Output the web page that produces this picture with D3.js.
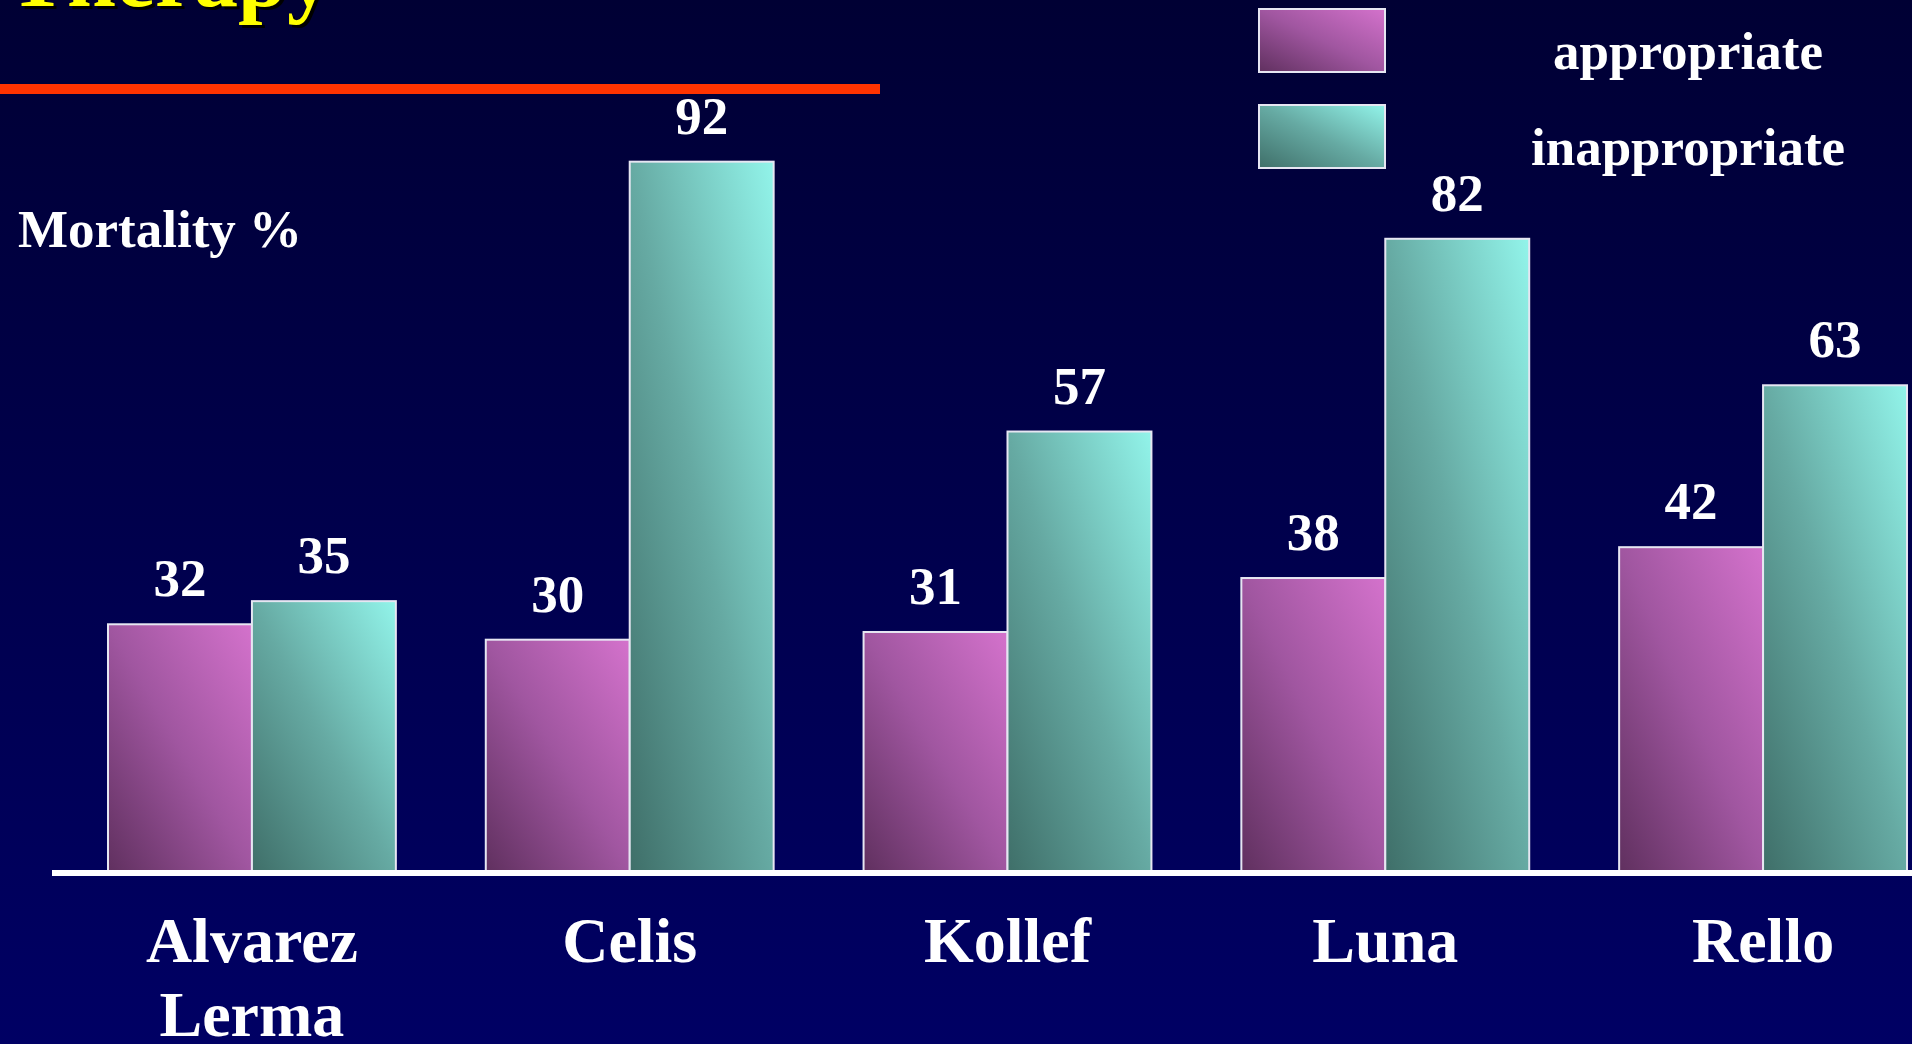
<!DOCTYPE html>
<html>
<head>
<meta charset="utf-8">
<script src="https://cdn.jsdelivr.net/npm/d3@7"></script>
<style>
  html, body { margin: 0; padding: 0; background: #000040; overflow: hidden; }
  svg { display: block; }
</style>
</head>
<body>
<svg id="chart" width="1912" height="1044"></svg>
<script>
// Mortality (%) by study, appropriate vs inappropriate therapy
const studies = ["Alvarez Lerma", "Celis", "Kollef", "Luna", "Rello"];
const appropriate = [32, 30, 31, 38, 42];
const inappropriate = [35, 92, 57, 82, 63];
const seriesNames = ["appropriate", "inappropriate"];

const W = 1912, H = 1044;
const serif = "'Liberation Serif', 'Times New Roman', 'DejaVu Serif', serif";
const svg = d3.select("#chart");
const defs = svg.append("defs");

// Slide background: dark navy, slightly lighter toward the bottom
const bg = defs.append("linearGradient").attr("id", "bg")
  .attr("x1", 0).attr("y1", 0).attr("x2", 0).attr("y2", 1);
bg.append("stop").attr("offset", "0%").attr("stop-color", "#000034");
bg.append("stop").attr("offset", "100%").attr("stop-color", "#000064");
svg.append("rect").attr("width", W).attr("height", H).attr("fill", "url(#bg)");

// Diagonal fills for the two series (dark lower-left, bright upper-right)
const fills = {
  appropriate:   ["#60305f", "#a056a0", "#d472cc"],
  inappropriate: ["#3f6f69", "#66aaa3", "#92f4ea"]
};
seriesNames.forEach(name => {
  const g = defs.append("linearGradient").attr("id", "grad-" + name)
    .attr("x1", 0).attr("y1", 1).attr("x2", 1).attr("y2", 0);
  g.append("stop").attr("offset", "0%").attr("stop-color", fills[name][0]);
  g.append("stop").attr("offset", "50%").attr("stop-color", fills[name][1]);
  g.append("stop").attr("offset", "100%").attr("stop-color", fills[name][2]);
});

// Title (last word of the heading, mostly above the top edge) with drop shadow
const titleG = svg.append("g").attr("font-family", serif).attr("font-weight", "bold")
  .attr("font-size", 88).attr("text-anchor", "end");
titleG.append("text").attr("x", 334).attr("y", 9).attr("fill", "#000000").text("Therapy");
titleG.append("text").attr("x", 331).attr("y", 6).attr("fill", "#ffff00").text("Therapy");

// Red rule under the title
svg.append("rect").attr("x", 0).attr("y", 84).attr("width", 880).attr("height", 10)
  .attr("fill", "#ff3300");

// Scales
const baseY = 871;
const x0 = d3.scaleBand().domain(studies).range([108, 1907]).paddingInner(0.238);
const x1 = d3.scaleBand().domain(seriesNames).range([0, x0.bandwidth()]);
const y = d3.scaleLinear().domain([0, 100]).range([baseY, 100]);

const rows = studies.map((s, i) => ({
  study: s,
  values: [
    { key: "appropriate", value: appropriate[i] },
    { key: "inappropriate", value: inappropriate[i] }
  ]
}));

// Bars
const groups = svg.append("g").selectAll("g").data(rows).join("g")
  .attr("transform", d => `translate(${x0(d.study)},0)`);

groups.selectAll("rect").data(d => d.values).join("rect")
  .attr("x", d => x1(d.key))
  .attr("y", d => y(d.value))
  .attr("width", x1.bandwidth())
  .attr("height", d => baseY - y(d.value))
  .attr("fill", d => "url(#grad-" + d.key + ")")
  .attr("stroke", "#e6e6f2")
  .attr("stroke-width", 2);

// Value labels
groups.selectAll("text").data(d => d.values).join("text")
  .attr("x", d => x1(d.key) + x1.bandwidth() / 2)
  .attr("y", d => y(d.value) - 28)
  .attr("text-anchor", "middle")
  .attr("font-family", serif).attr("font-weight", "bold").attr("font-size", 53)
  .attr("fill", "#ffffff")
  .text(d => d.value);

// Baseline
svg.append("line").attr("x1", 52).attr("x2", W).attr("y1", baseY + 2).attr("y2", baseY + 2)
  .attr("stroke", "#ffffff").attr("stroke-width", 6);

// Category axis (labels only, may wrap onto two lines)
const xAxis = d3.axisBottom(x0).tickSize(0).tickPadding(0);
const axisG = svg.append("g").attr("transform", `translate(0,${baseY})`).call(xAxis);
axisG.select(".domain").remove();
axisG.selectAll(".tick text")
  .attr("font-family", serif).attr("font-weight", "bold").attr("font-size", 64)
  .attr("fill", "#ffffff").attr("dy", null).attr("y", 91)
  .each(function(d) {
    const words = d.split(" ");
    const t = d3.select(this).text(null);
    words.forEach((w, i) => {
      t.append("tspan").attr("x", 0).attr("dy", i === 0 ? 0 : 74).text(w);
    });
  });

// Axis title
svg.append("text").attr("x", 18).attr("y", 247)
  .attr("font-family", serif).attr("font-weight", "bold").attr("font-size", 53)
  .attr("fill", "#ffffff").text("Mortality %");

// Legend
const legend = svg.append("g");
const legendY = [9, 105];
seriesNames.forEach((name, i) => {
  legend.append("rect").attr("x", 1259).attr("y", legendY[i]).attr("width", 126).attr("height", 63)
    .attr("fill", "url(#grad-" + name + ")").attr("stroke", "#e6e6f2").attr("stroke-width", 2);
  legend.append("text").attr("x", 1688).attr("y", legendY[i] + 60)
    .attr("text-anchor", "middle")
    .attr("font-family", serif).attr("font-weight", "bold").attr("font-size", 53)
    .attr("fill", "#ffffff").text(name);
});
</script>
</body>
</html>
